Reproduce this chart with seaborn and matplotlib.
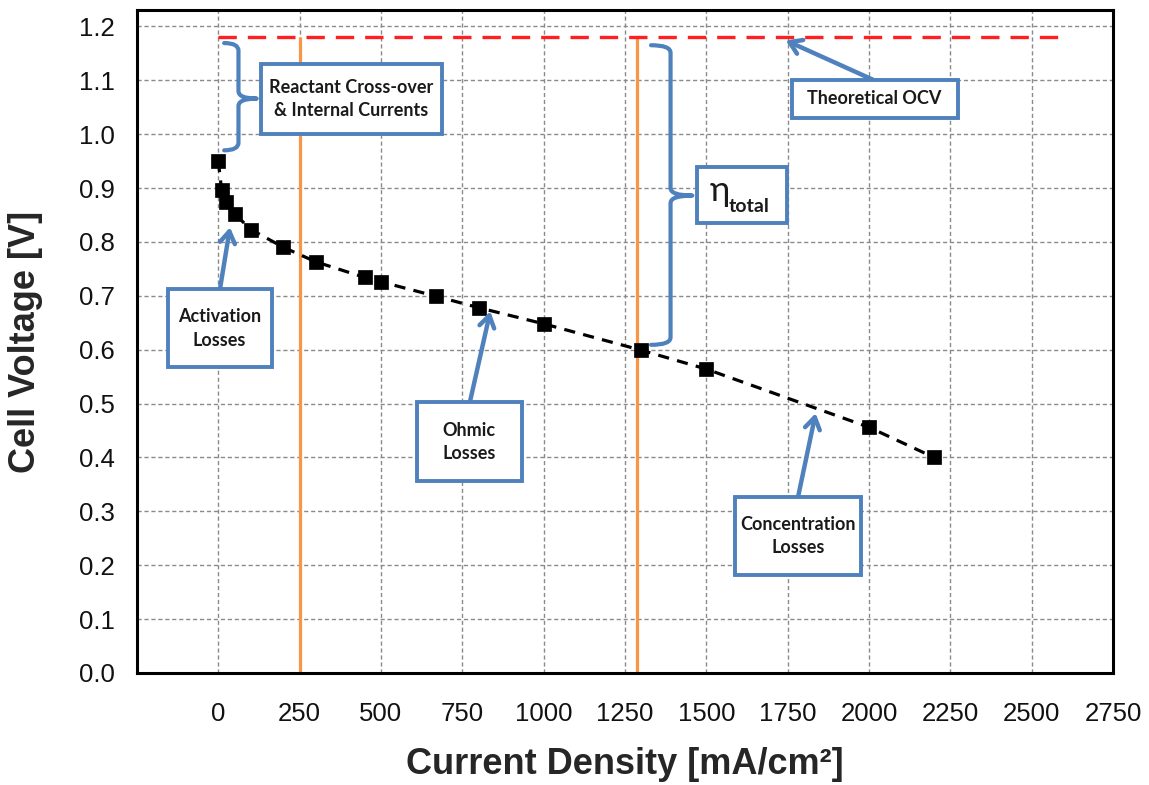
import matplotlib
matplotlib.use("Agg")
import matplotlib.pyplot as plt
from matplotlib.patches import Rectangle, PathPatch
from matplotlib.path import Path
import seaborn as sns
import pandas as pd

# Polarisation curve: current density [mA/cm2] vs cell voltage [V]
current_density = [0, 10, 25, 50, 100, 200, 300, 450, 500, 670, 800, 1000, 1300, 1500, 2000, 2200]
cell_voltage = [0.950, 0.897, 0.874, 0.852, 0.823, 0.790, 0.763, 0.734, 0.726, 0.699, 0.678,
                0.648, 0.599, 0.564, 0.456, 0.400]

theoretical_ocv = 1.18
ocv_span = [0, 2600]
region_bounds = [250, 1288]

x_ticks = list(range(-250, 2751, 250))
x_tick_labels = [""] + [str(v) for v in x_ticks[1:]]
y_ticks = [round(0.1 * i, 1) for i in range(13)]

BLUE = "#4f81bd"
ORANGE = "#f79646"
RED = "#ff1f1f"

sns.set_theme(style="whitegrid")
plt.rcParams["font.family"] = ["Liberation Sans", "DejaVu Sans"]

fig = plt.figure(figsize=(11.49, 7.85), dpi=100)
ax = fig.add_axes([0.1192, 0.1427, 0.8495, 0.8443])

df = pd.DataFrame({"Current Density": current_density, "Cell Voltage": cell_voltage})

# loss-region boundaries and theoretical open-circuit voltage
ax.vlines(region_bounds, 0, theoretical_ocv, colors=ORANGE, lw=2.3, zorder=2)
ax.hlines(theoretical_ocv, ocv_span[0], ocv_span[1], colors=RED, lw=2.4,
          linestyles=(0, (5.5, 3.3)), zorder=3)

sns.lineplot(data=df, x="Current Density", y="Cell Voltage", ax=ax, color="black",
             lw=2.3, marker="s", markersize=9.5, markeredgecolor="black",
             markeredgewidth=0.5, zorder=4)
ax.lines[-1].set_dashes([3.5, 2.6])

ax.set_xlim(-250, 2750)
ax.set_ylim(0, 1.23)
ax.set_xticks(x_ticks)
ax.set_xticklabels(x_tick_labels)
ax.set_yticks(y_ticks)
ax.set_yticklabels([f"{v:.1f}" for v in y_ticks])

ax.grid(True, color="#8a8a8a", lw=1.0, linestyle=(0, (3, 2)))
for side in ["left", "right", "top", "bottom"]:
    ax.spines[side].set_visible(True)
    ax.spines[side].set_color("black")
    ax.spines[side].set_linewidth(2.2)
ax.tick_params(axis="both", which="both", length=10, width=1, color="#9a9a9a",
               labelsize=18.5, labelcolor="#111111")
ax.tick_params(axis="x", pad=11)
ax.tick_params(axis="y", pad=6)

ax.set_xlabel("Current Density [mA/cm²]", fontsize=26, fontweight="bold", labelpad=15)
ax.set_ylabel("Cell Voltage [V]", fontsize=26, fontweight="bold", labelpad=26)

box_font = dict(family=["Lato", "DejaVu Sans"], fontweight="bold", fontsize=13,
                color="#1a1a1a", ha="center", va="center", linespacing=1.45, zorder=7)


def label_box(x0, x1, y0, y1, text=None):
    ax.add_patch(Rectangle((x0, y0), x1 - x0, y1 - y0, facecolor="white",
                           edgecolor=BLUE, lw=2.8, zorder=6))
    if text:
        ax.text((x0 + x1) / 2, (y0 + y1) / 2, text, **box_font)


def arrow(tail, tip):
    ax.annotate("", xy=tip, xytext=tail, zorder=6,
                arrowprops=dict(arrowstyle="->,head_length=0.7,head_width=0.45",
                                color=BLUE, lw=3.2, shrinkA=0, shrinkB=0))


def brace(x_end, x_mid, x_tip, y_top, y_bot, y_tip, r=0.014):
    verts = [(x_end, y_top), (x_mid, y_top), (x_mid, y_top - r),
             (x_mid, y_tip + r), (x_mid, y_tip), (x_tip, y_tip),
             (x_mid, y_tip), (x_mid, y_tip - r),
             (x_mid, y_bot + r), (x_mid, y_bot), (x_end, y_bot)]
    codes = [Path.MOVETO, Path.CURVE3, Path.CURVE3,
             Path.LINETO, Path.CURVE3, Path.CURVE3,
             Path.CURVE3, Path.CURVE3,
             Path.LINETO, Path.CURVE3, Path.CURVE3]
    ax.add_patch(PathPatch(Path(verts, codes), facecolor="none", edgecolor=BLUE,
                           lw=3.0, zorder=6, capstyle="round", joinstyle="round"))


# Reactant cross-over
brace(18, 62, 118, 1.169, 0.970, 1.066)
label_box(130, 688, 1.001, 1.130, "Reactant Cross-over\n& Internal Currents")

# Theoretical OCV
arrow((2012, 1.101), (1744, 1.174))
label_box(1762, 2272, 1.030, 1.101, "Theoretical OCV")

# total overpotential
brace(1330, 1390, 1457, 1.165, 0.609, 0.886)
label_box(1472, 1748, 0.835, 0.939)
ax.text(1540, 0.895, "η", fontsize=25, family=["Lato", "DejaVu Sans"],
        color="#1a1a1a", ha="center", va="center", zorder=7)
ax.text(1570, 0.866, "total", fontsize=14, family=["Lato", "DejaVu Sans"],
        fontweight="bold", color="#1a1a1a", ha="left", va="center", zorder=7)

# Activation losses
arrow((5, 0.712), (36, 0.827))
label_box(-156, 164, 0.567, 0.712, "Activation\nLosses")

# Ohmic losses
arrow((773, 0.502), (836, 0.671))
label_box(611, 932, 0.356, 0.502, "Ohmic\nLosses")

# Concentration losses
arrow((1782, 0.327), (1836, 0.482))
label_box(1589, 1974, 0.181, 0.327, "Concentration\nLosses")

fig.savefig("out.png", dpi=100)
